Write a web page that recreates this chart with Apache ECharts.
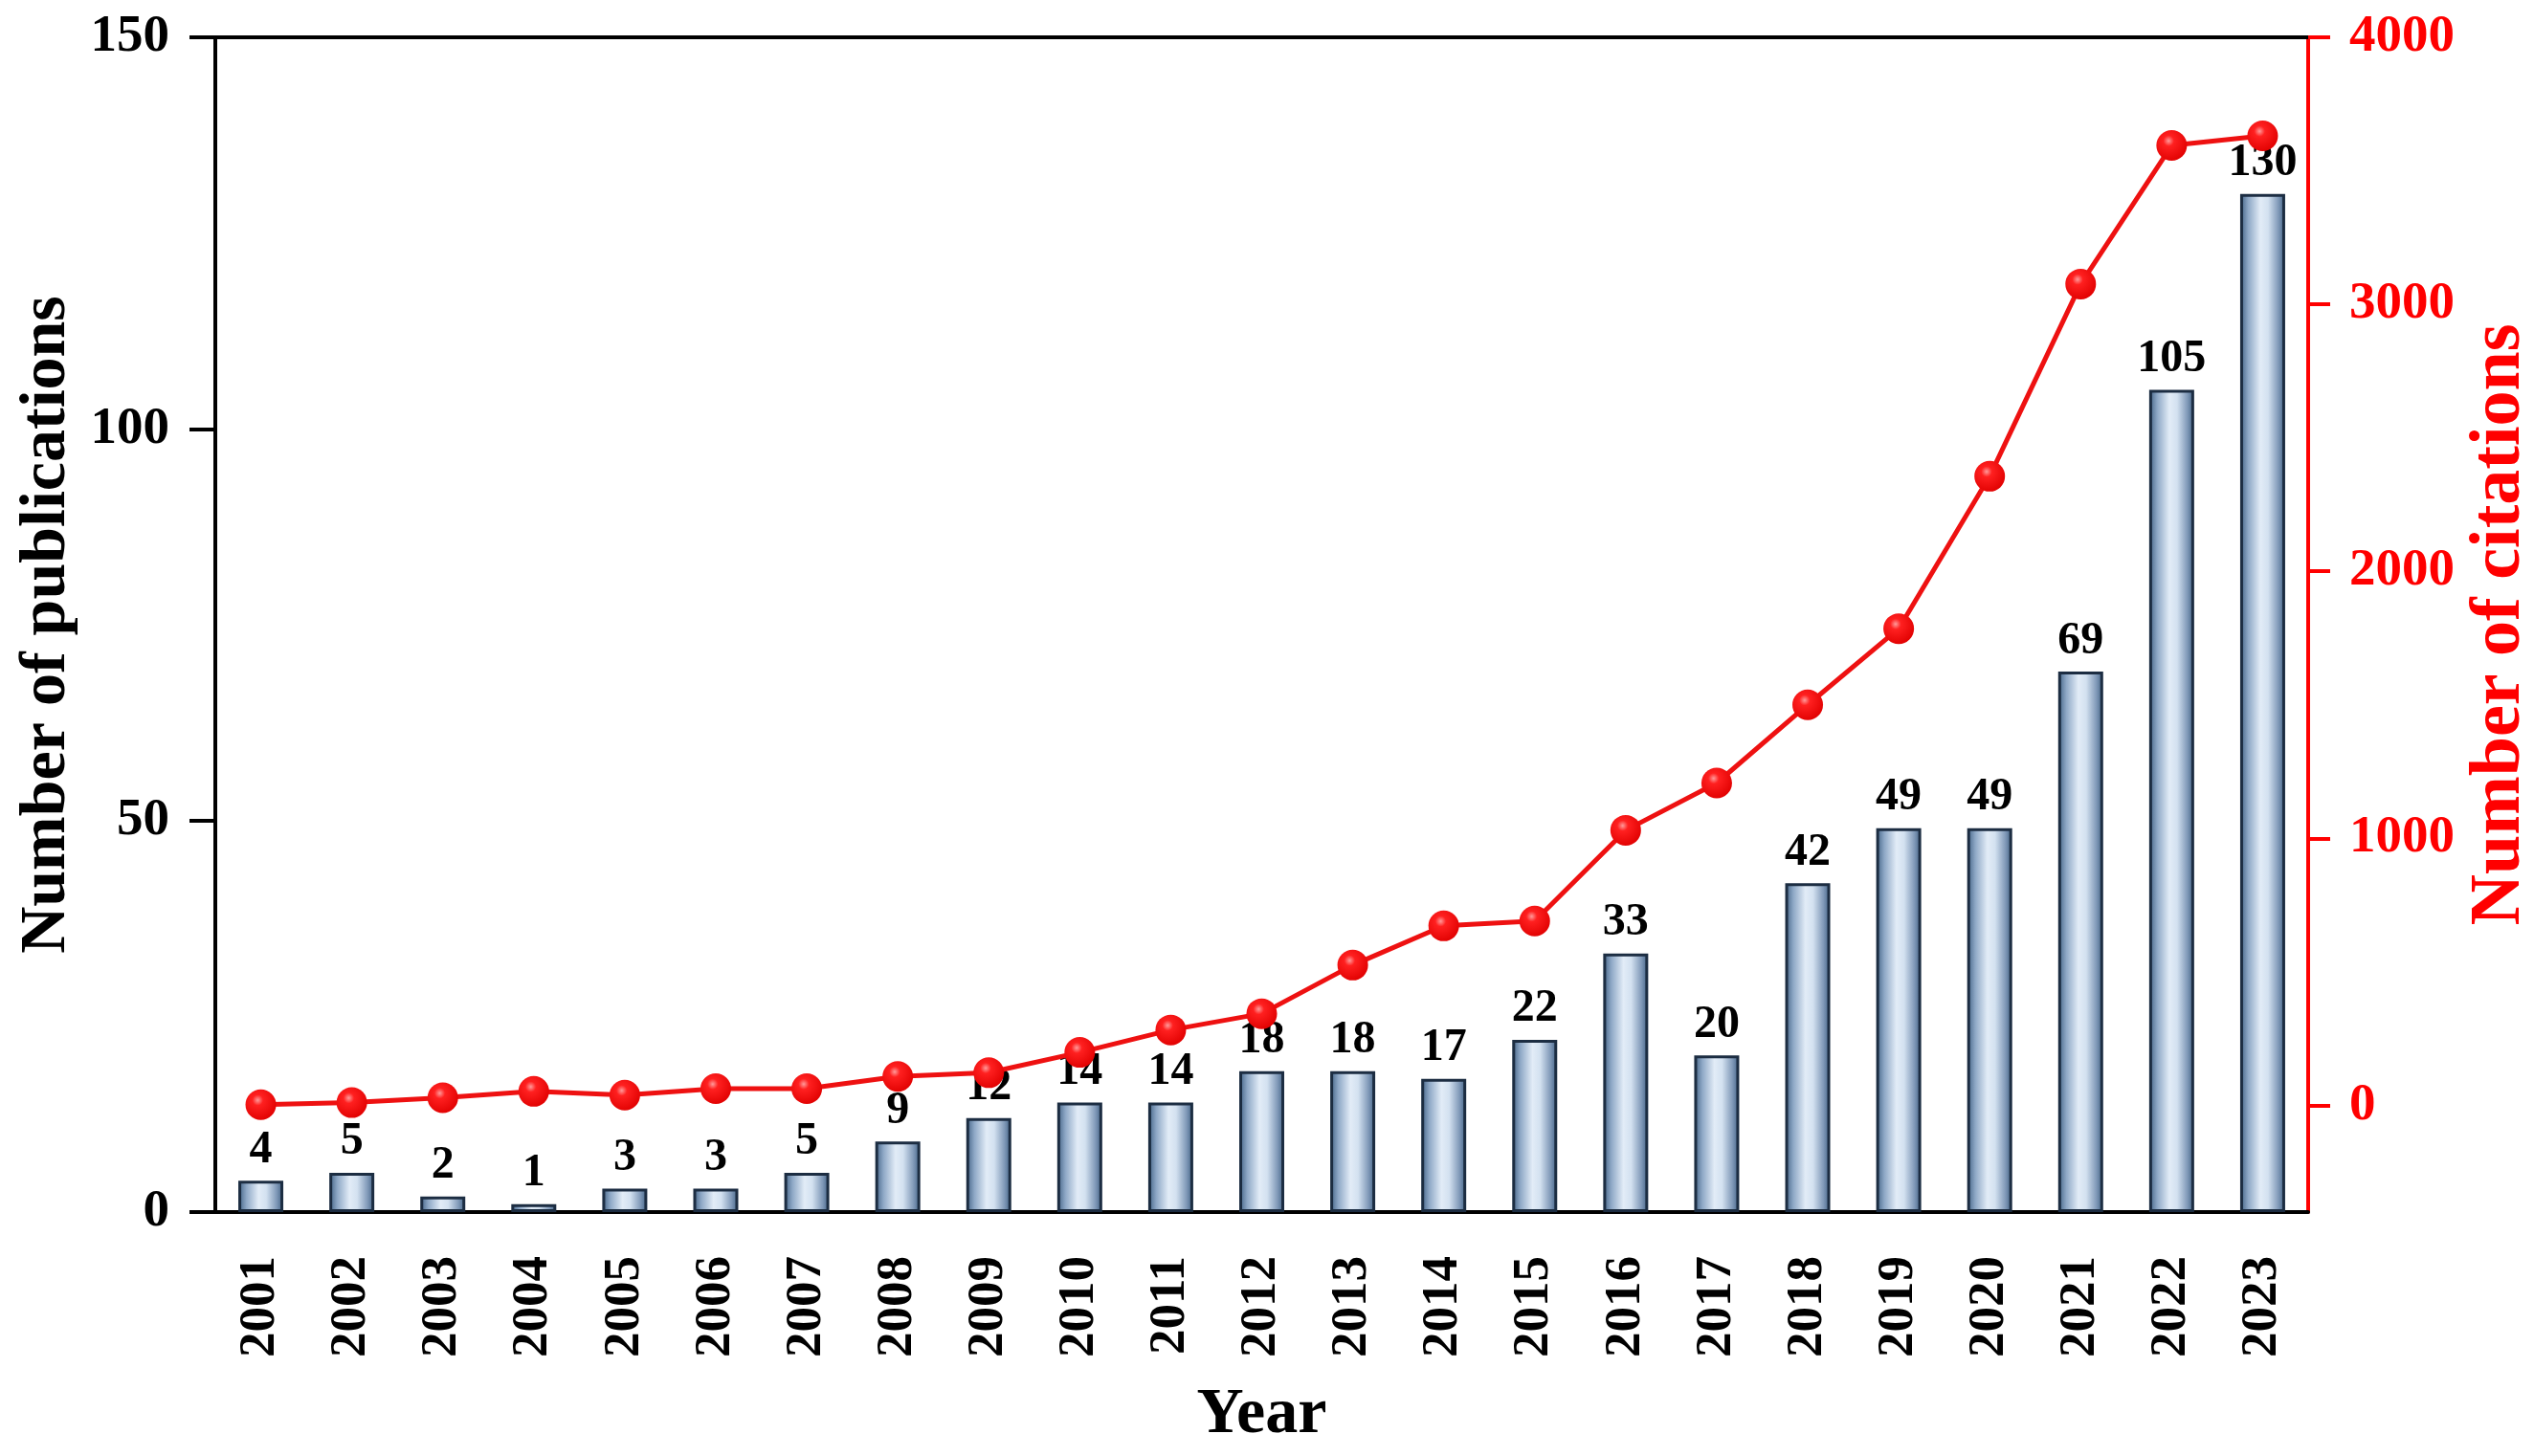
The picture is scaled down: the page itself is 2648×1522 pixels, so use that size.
<!DOCTYPE html>
<html>
<head>
<meta charset="utf-8">
<script src="https://cdn.jsdelivr.net/npm/echarts@6/dist/echarts.min.js"></script>
<style>html,body{margin:0;padding:0;background:#fff}#c{width:2648px;height:1522px}</style>
</head>
<body>
<div id="c"></div>
<script>
const years = ['2001','2002','2003','2004','2005','2006','2007','2008','2009','2010','2011','2012','2013','2014','2015','2016','2017','2018','2019','2020','2021','2022','2023'];
const publications = [4,5,2,1,3,3,5,9,12,14,14,18,18,17,22,33,20,42,49,49,69,105,130];
const citations = [2,10,28,52,38,62,62,108,122,198,282,343,525,672,690,1030,1207,1500,1785,2356,3076,3595,3631];
const leftTicks = [0,50,100,150];
const rightTicks = [0,1000,2000,3000,4000];

const FONT = 'Liberation Serif';
const chart = echarts.init(document.getElementById('c'), null, {renderer:'canvas'});
const barGrad = new echarts.graphic.LinearGradient(0,0,1,0,[
  {offset:0,color:'#3f5f82'},
  {offset:0.18,color:'#8ea8c6'},
  {offset:0.45,color:'#e2ecf7'},
  {offset:0.62,color:'#d3e1f0'},
  {offset:0.85,color:'#8099b8'},
  {offset:1,color:'#3f5f82'}
]);
const ballGrad = new echarts.graphic.RadialGradient(0.4,0.35,0.7,[
  {offset:0,color:'#ff9a9a'},
  {offset:0.25,color:'#ff2020'},
  {offset:1,color:'#e00000'}
]);
chart.setOption({
  animation:false,
  backgroundColor:'#fff',
  grid:{left:225,right:236,top:39,bottom:255,containLabel:false,outerBoundsMode:'none'},
  xAxis:[{
    type:'category',data:years,position:'bottom',
    name:'Year',nameLocation:'middle',nameGap:178,
    nameTextStyle:{fontFamily:FONT,fontWeight:'bold',fontSize:68,color:'#000'},
    axisLine:{onZero:false,lineStyle:{color:'#000',width:4}},
    axisTick:{alignWithLabel:true,length:26,lineStyle:{color:'#000',width:4}},
    axisLabel:{rotate:90,margin:46,fontFamily:FONT,fontWeight:'bold',fontSize:53,color:'#000',interval:0}
  },{
    type:'category',data:years,position:'top',
    axisLine:{show:true,onZero:false,lineStyle:{color:'#000',width:4}},
    axisTick:{show:false},axisLabel:{show:false}
  }],
  yAxis:[{
    type:'value',min:0,max:150,interval:50,position:'left',
    name:'Number of publications',nameLocation:'middle',nameGap:142,nameRotate:90,
    nameTextStyle:{fontFamily:FONT,fontWeight:'bold',fontSize:68,color:'#000'},
    axisLine:{show:true,onZero:false,lineStyle:{color:'#000',width:4}},
    axisTick:{show:true,length:27,lineStyle:{color:'#000',width:4}},
    axisLabel:{margin:48,fontFamily:FONT,fontWeight:'bold',fontSize:55,color:'#000',customValues:leftTicks},
    splitLine:{show:false}
  },{
    type:'value',min:-400,max:4000,position:'right',
    name:'Number of citations',nameLocation:'middle',nameGap:162,nameRotate:90,
    nameTextStyle:{fontFamily:FONT,fontWeight:'bold',fontSize:74,color:'#ff0000'},
    axisLine:{show:true,onZero:false,lineStyle:{color:'#ff0000',width:4}},
    axisTick:{show:true,length:23,customValues:rightTicks,lineStyle:{color:'#ff0000',width:4}},
    axisLabel:{margin:43,fontFamily:FONT,fontWeight:'bold',fontSize:55,color:'#ff0000',customValues:rightTicks,formatter:function(v){return String(v);}},
    splitLine:{show:false}
  }],
  series:[{
    type:'bar',data:publications,xAxisIndex:0,yAxisIndex:0,barWidth:47,
    itemStyle:{color:barGrad,borderColor:'#1c2d42',borderWidth:3},
    label:{show:true,position:'top',distance:8,fontFamily:FONT,fontWeight:'bold',fontSize:48,color:'#000'},
    z:2
  },{
    type:'line',data:citations,xAxisIndex:0,yAxisIndex:1,
    symbol:'circle',symbolSize:32,
    lineStyle:{color:'#ee1111',width:5},
    itemStyle:{color:ballGrad,borderWidth:0},
    z:5
  }]
});
</script>
</body>
</html>
